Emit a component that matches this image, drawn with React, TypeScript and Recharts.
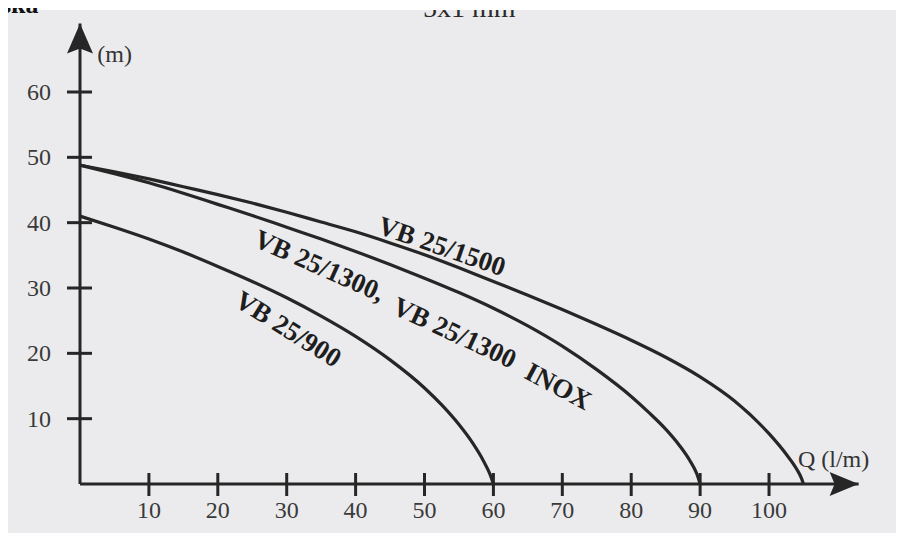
import React from 'react';
import { LineChart, Line, XAxis, YAxis, ReferenceDot } from 'recharts';

// Q (l/m) and H (m)
const q900 = [0, 5, 10, 15, 20, 25, 30, 35, 40, 45, 50, 52.5, 55, 57, 58.5, 59.5, 60];
const h900 = [41, 39.3, 37.5, 35.5, 33.3, 31.0, 28.5, 25.7, 22.6, 19.0, 14.7, 12.1, 9.1, 6.25, 3.65, 1.5, 0];

const q1300 = [0, 5, 10, 15, 20, 25, 30, 35, 40, 45, 50, 55, 60, 65, 70, 75, 80, 82.5, 85, 87, 88.5, 89.5, 90];
const h1300 = [48.8, 47.5, 46.1, 44.5, 42.8, 41.1, 39.3, 37.5, 35.6, 33.6, 31.5, 29.3, 26.9, 24.2, 21.1, 17.5, 13.4, 11.0, 8.4, 5.9, 3.6, 1.6, 0];

const q1500 = [0, 5, 10, 15, 20, 25, 30, 35, 40, 45, 50, 55, 60, 65, 70, 75, 80, 85, 90, 95, 100, 102.5, 104, 104.7, 105];
const h1500 = [48.8, 47.8, 46.7, 45.5, 44.3, 43.0, 41.6, 40.1, 38.6, 36.9, 35.1, 33.1, 31.0, 28.9, 26.7, 24.4, 22.0, 19.4, 16.4, 12.7, 7.7, 4.55, 2.3, 0.9, 0];

const xTicks = [10, 20, 30, 40, 50, 60, 70, 80, 90, 100];
const yTicks = [10, 20, 30, 40, 50, 60];

const yUnit = '(m)';
const xUnit = 'Q (l/m)';

// curve label annotations (data coordinates of baseline start, rotation)
const labelTexts = ['VB 25/1500', 'VB 25/1300,', 'VB 25/1300', 'INOX', 'VB 25/900'];
const labelQ = [43.0, 25.0, 45.1, 64.3, 22.2];
const labelH = [38.4, 36.5, 26.2, 16.3, 27.4];
const labelAngle = [19, 24, 25, 28, 32];

const X_MAX = 113;
const Y_MAX = 70.5;

const toRows = (q: number[], h: number[]) => q.map((v, i) => ({ q: v, h: h[i] }));
const d900 = toRows(q900, h900);
const d1300 = toRows(q1300, h1300);
const d1500 = toRows(q1500, h1500);

const INK = '#262626';
const FONT = '"Liberation Serif", "DejaVu Serif", serif';

const XTick = (p: any) => {
  const { x, y, payload } = p;
  return (
    <g>
      <line x1={x} x2={x} y1={y - 11} y2={y + 12} stroke={INK} strokeWidth={3} />
      <text x={x} y={y + 34} textAnchor="middle" fontFamily={FONT} fontSize={24} fill="#3a3a3a">
        {payload.value}
      </text>
    </g>
  );
};

const YTick = (p: any) => {
  const { x, y, payload } = p;
  return (
    <g>
      <line x1={x - 13} x2={x + 12} y1={y} y2={y} stroke={INK} strokeWidth={3} />
      <text x={x - 29} y={y + 8} textAnchor="end" fontFamily={FONT} fontSize={24} fill="#3a3a3a">
        {payload.value}
      </text>
    </g>
  );
};

const upArrow = (p: any) => {
  const { cx, cy } = p;
  return (
    <polygon
      points={`${cx},${cy} ${cx - 13},${cy + 30} ${cx},${cy + 25} ${cx + 13},${cy + 30}`}
      fill={INK}
    />
  );
};

const rightArrow = (p: any) => {
  const { cx, cy } = p;
  return (
    <polygon
      points={`${cx},${cy} ${cx - 29},${cy - 12} ${cx - 24},${cy} ${cx - 29},${cy + 12}`}
      fill={INK}
    />
  );
};

const plainText = (text: string, anchor: string) => (p: any) => (
  <text x={p.cx} y={p.cy} textAnchor={anchor} fontFamily={FONT} fontSize={24} fill="#333">
    {text}
  </text>
);

const rotatedText = (text: string, angle: number) => (p: any) => (
  <text
    x={p.cx}
    y={p.cy}
    transform={`rotate(${angle} ${p.cx} ${p.cy})`}
    fontFamily={FONT}
    fontWeight="bold"
    fontSize={27}
    fill="#1e1e1e"
  >
    {text}
  </text>
);

export default function App() {
  return (
    <div
      style={{
        margin: -8,
        width: 904,
        height: 544,
        position: 'relative',
        overflow: 'hidden',
        background: '#ffffff',
      }}
    >
      <div
        style={{
          position: 'absolute',
          left: 8,
          top: 10,
          width: 896,
          height: 523,
          background: '#ebebed',
          overflow: 'hidden',
        }}
      >
        <svg width={896} height={523} style={{ position: 'absolute', left: 0, top: 0 }}>
          <text x={415} y={7} fontFamily={FONT} fontSize={28} fill="#2a2a2a">
            5x1 mm
          </text>
        </svg>
      </div>
      <svg width={60} height={20} style={{ position: 'absolute', left: 0, top: 0 }}>
        <text x={1} y={13} fontFamily={FONT} fontWeight="bold" fontSize={26} fill="#111">
          ska
        </text>
      </svg>
      <div style={{ position: 'absolute', left: 0, top: 0 }}>
        <LineChart
          width={904}
          height={544}
          margin={{ top: 23.4, right: 45.4, bottom: 0, left: 0 }}
        >
          <XAxis
            type="number"
            dataKey="q"
            domain={[0, X_MAX]}
            ticks={xTicks}
            height={60}
            axisLine={{ stroke: INK, strokeWidth: 3 }}
            tickLine={false}
            tickSize={0}
            tickMargin={0}
            tick={(p: any) => <XTick {...p} />}
            interval={0}
          />
          <YAxis
            type="number"
            dataKey="h"
            domain={[0, Y_MAX]}
            ticks={yTicks}
            width={80}
            axisLine={{ stroke: INK, strokeWidth: 3 }}
            tickLine={false}
            tickSize={0}
            tickMargin={0}
            tick={(p: any) => <YTick {...p} />}
            interval={0}
          />
          <Line data={d1500} dataKey="h" name="VB 25/1500" type="monotone" stroke={INK} strokeWidth={3.2} dot={false} isAnimationActive={false} />
          <Line data={d1300} dataKey="h" name="VB 25/1300" type="monotone" stroke={INK} strokeWidth={3.2} dot={false} isAnimationActive={false} />
          <Line data={d900} dataKey="h" name="VB 25/900" type="monotone" stroke={INK} strokeWidth={3.2} dot={false} isAnimationActive={false} />
          <ReferenceDot x={0} y={Y_MAX} r={0} shape={upArrow} ifOverflow="visible" />
          <ReferenceDot x={X_MAX} y={0} r={0} shape={rightArrow} ifOverflow="visible" />
          <ReferenceDot x={2.5} y={64.6} r={0} shape={plainText(yUnit, 'start')} ifOverflow="visible" />
          <ReferenceDot x={104.2} y={2.6} r={0} shape={plainText(xUnit, 'start')} ifOverflow="visible" />
          {labelTexts.map((t, i) => (
            <ReferenceDot
              key={i}
              x={labelQ[i]}
              y={labelH[i]}
              r={0}
              shape={rotatedText(t, labelAngle[i])}
              ifOverflow="visible"
            />
          ))}
        </LineChart>
      </div>
    </div>
  );
}
